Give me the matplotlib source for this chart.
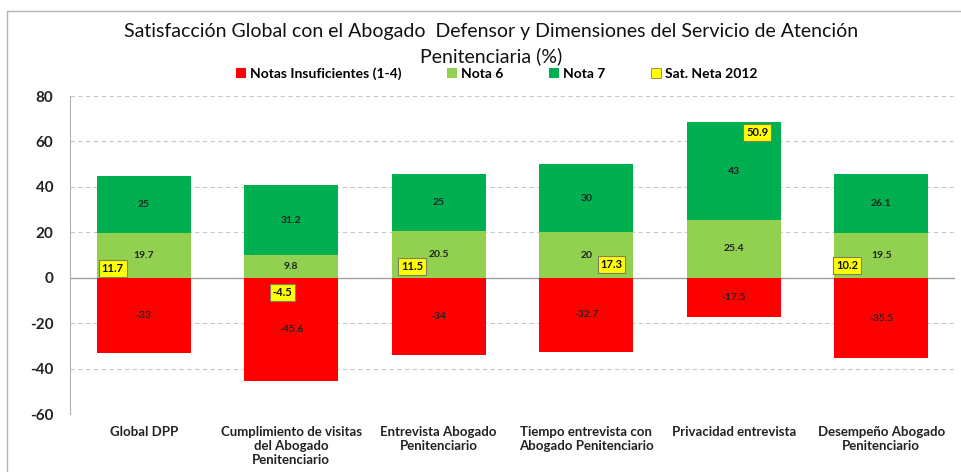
import numpy as np
import matplotlib.pyplot as plt
from matplotlib.patches import Patch, Rectangle

#######################################################
# Data
#######################################################

categories = ['Global DPP',
              'Cumplimiento de visitas\ndel Abogado\nPenitenciario',
              'Entrevista Abogado\nPenitenciario',
              'Tiempo entrevista con\nAbogado Penitenciario',
              'Privacidad entrevista',
              'Desempeño Abogado\nPenitenciario']
insuficientes = [-33, -45.6, -34, -32.7, -17.5, -35.5]
nota6 = [19.7, 9.8, 20.5, 20, 25.4, 19.5]
nota7 = [25, 31.2, 25, 30, 43, 26.1]
sat_neta = [11.7, -4.5, 11.5, 17.3, 50.9, 10.2]

# where Excel dropped the Sat. Neta labels (x offset from bar centre, y in data units)
sat_dx = [-0.21, -0.06, -0.18, 0.17, 0.16, -0.23]
sat_y = [4.0, -6.6, 5.0, 5.8, 64.0, 5.3]

title = 'Satisfacción Global con el Abogado  Defensor y Dimensiones del Servicio de Atención\nPenitenciaria (%)'

c_red = '#FF0000'
c_light = '#92D050'
c_green = '#00B050'
c_yellow = '#FFFF00'

#######################################################
# Figure
#######################################################

plt.rcParams['font.family'] = ['Lato', 'DejaVu Sans']
plt.rcParams['axes.unicode_minus'] = False

fig = plt.figure(figsize=(9.61, 4.72), dpi=100)
ax = fig.add_axes([70 / 961, 1 - 414 / 472, 885 / 961, 318 / 472])

x = np.arange(len(categories))
w = 0.64

ax.bar(x, insuficientes, w, color=c_red, zorder=3)
ax.bar(x, nota6, w, color=c_light, zorder=3)
ax.bar(x, nota7, w, bottom=nota6, color=c_green, zorder=3)

for i in range(len(x)):
    ax.text(x[i], insuficientes[i] / 2, f'{insuficientes[i]:g}', ha='center', va='center',
            fontsize=7.5, fontweight='bold', color='#222222', zorder=4)
    ax.text(x[i], nota6[i] / 2, f'{nota6[i]:g}', ha='center', va='center',
            fontsize=7.5, fontweight='bold', color='#222222', zorder=4)
    ax.text(x[i], nota6[i] + nota7[i] / 2, f'{nota7[i]:g}', ha='center', va='center',
            fontsize=7.5, fontweight='bold', color='#222222', zorder=4)
    ax.text(x[i] + sat_dx[i], sat_y[i], f'{sat_neta[i]:g}', ha='center', va='center',
            fontsize=8, fontweight='bold', color='#111111', zorder=5,
            bbox=dict(boxstyle='square,pad=0.25', facecolor=c_yellow,
                      edgecolor='#808060', linewidth=0.8))

ax.set_xlim(-0.5, 5.5)
ax.set_ylim(-60, 80)
ax.set_yticks(np.arange(-60, 81, 20))
ax.set_xticks(x)
ax.set_xticklabels(categories, fontsize=9.5, fontweight='bold', color='#222222',
                   linespacing=1.2)
ax.tick_params(axis='y', labelsize=11, length=0, pad=12, labelcolor='#222222')
ax.tick_params(axis='x', length=0, pad=9)
for lab in ax.get_yticklabels():
    lab.set_fontweight('bold')

ax.grid(axis='y', color='#c8c8c8', linestyle=(0, (4, 3)), linewidth=0.8, zorder=0)
ax.axhline(0, color='#a0a0a0', linewidth=1, zorder=2)
for s in ['top', 'right', 'bottom']:
    ax.spines[s].set_visible(False)
ax.spines['left'].set_color('#b0b0b0')

fig.text(491 / 961, 1 - 44 / 472, title, ha='center', va='center', fontsize=14,
         color='#111111', linespacing=1.45)

handles = [Patch(facecolor=c_red), Patch(facecolor=c_light), Patch(facecolor=c_green),
           Patch(facecolor=c_yellow, edgecolor='#808060', linewidth=0.6)]
labels = ['Notas Insuficientes (1-4)', 'Nota 6', 'Nota 7', 'Sat. Neta 2012']
leg = fig.legend(handles, labels, loc='center', bbox_to_anchor=(497 / 961, 1 - 74 / 472),
                 ncol=4, frameon=False, handlelength=0.7, handleheight=0.7,
                 handletextpad=0.3, columnspacing=3.3,
                 prop={'size': 10, 'weight': 'bold'})

# outer chart frame (left and top edges visible in the crop)
fig.patches.append(Rectangle((7 / 961, -0.05), 1.0, 1 - 11 / 472 + 0.05,
                             transform=fig.transFigure, fill=False,
                             edgecolor='#b4b4b4', linewidth=1))

fig.savefig('out.png', dpi=100)
